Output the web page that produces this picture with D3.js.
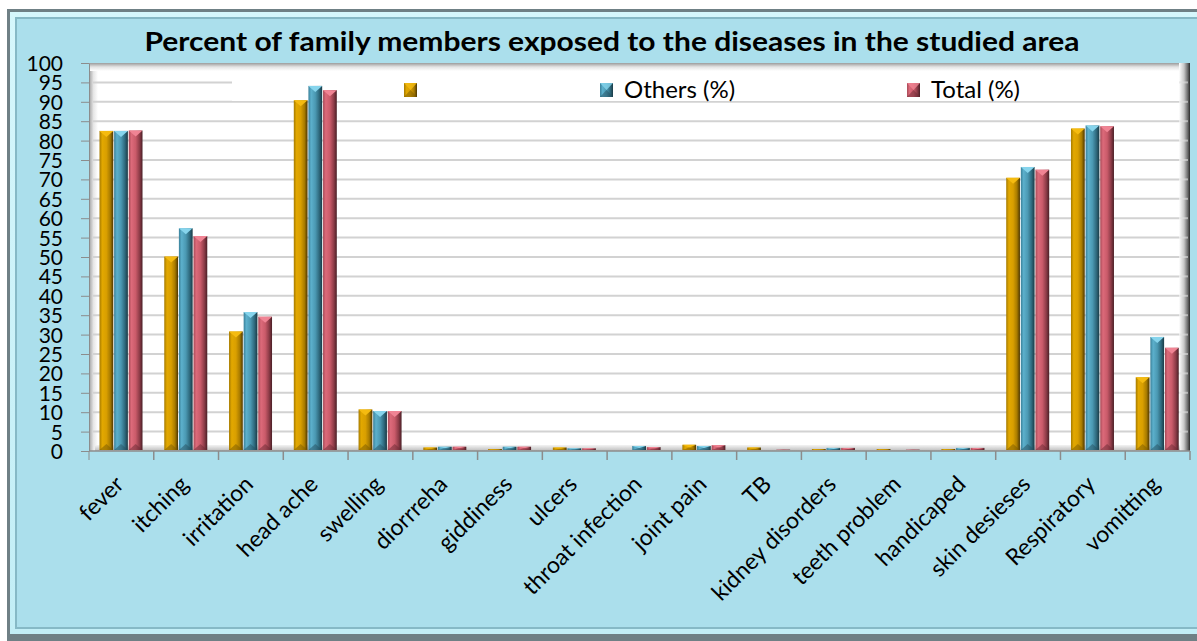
<!DOCTYPE html>
<html>
<head>
<meta charset="utf-8">
<script src="https://cdn.jsdelivr.net/npm/d3@7"></script>
<style>
  html, body { margin: 0; padding: 0; background: #ffffff; }
  svg { display: block; }
</style>
</head>
<body>
<svg id="chart" width="1197" height="641"></svg>
<script>
const categories = ["fever","itching","irritation","head ache","swelling","diorrreha","giddiness","ulcers","throat infection","joint pain","TB","kidney disorders","teeth problem","handicaped","skin desieses","Respiratory","vomitting"];
const seriesNames = ["", "Others (%)", "Total (%)"];
const series1 = [82.5, 50.1, 30.8, 90.4, 10.7, 0.9, 0.5, 0.9, 0, 1.6, 0.9, 0.3, 0.5, 0.3, 70.4, 83.1, 19.0];
const others  = [82.5, 57.4, 35.8, 94.1, 10.3, 1.1, 1.1, 0.7, 1.3, 1.3, 0, 0.8, 0, 0.8, 73.2, 83.9, 29.4];
const total   = [82.6, 55.4, 34.6, 93.0, 10.3, 1.1, 1.1, 0.7, 1.0, 1.5, 0.1, 0.8, 0.1, 0.8, 72.5, 83.7, 26.6];
const yTicks = d3.range(0, 101, 5);
const title = "Percent of family members exposed to the diseases in the studied area";

const allSeries = [series1, others, total];
const colors = [
  {stops: ["#a57a00", "#e2a800", "#d99f00", "#a87b00", "#4d3700"], cap: "#f5bb10", base: "#7a5a00"},
  {stops: ["#3a8099", "#5cb0cc", "#4b99b3", "#2f6a7e", "#1a3a45"], cap: "#86d4ec", base: "#25505f"},
  {stops: ["#a84a57", "#dc6a7a", "#ca5b6a", "#8e3c48", "#4a1f26"], cap: "#f08494", base: "#6a2a33"}
];

const svg = d3.select("#chart");
const defs = svg.append("defs");

colors.forEach((c, i) => {
  const g = defs.append("linearGradient").attr("id", "bar" + i)
    .attr("x1", "0").attr("x2", "1").attr("y1", "0").attr("y2", "0");
  [0, 0.2, 0.5, 0.78, 1].forEach((o, k) => g.append("stop").attr("offset", o).attr("stop-color", c.stops[k]));
});
function lin(id, x1, y1, x2, y2, stops) {
  const g = defs.append("linearGradient").attr("id", id)
    .attr("x1", x1).attr("y1", y1).attr("x2", x2).attr("y2", y2);
  stops.forEach(s => g.append("stop").attr("offset", s[0]).attr("stop-color", s[1]));
}
lin("leftWall", 0, 0, 1, 0, [[0, "#a0a0a0"], [0.5, "#e6e6e6"], [1, "#ffffff"]]);
lin("topWall", 0, 0, 0, 1, [[0, "#9c9c9c"], [0.5, "#e4e4e4"], [1, "#ffffff"]]);
lin("rightWall", 0, 0, 1, 0, [[0, "#ffffff"], [0.45, "#c8c8c8"], [0.8, "#6a6a6a"], [1, "#2a2a2a"]]);
lin("floor", 0, 0, 0, 1, [[0, "#f4f4f4"], [1, "#bcbcbc"]]);
lin("frameLight", 0, 0, 0, 1, [[0, "#d6f7fc"], [1, "#c2eef6"]]);

// Frame
svg.append("rect").attr("x", 7).attr("y", 9).attr("width", 1200).attr("height", 632).attr("fill", "#6f8085");
svg.append("rect").attr("x", 10).attr("y", 12).attr("width", 1194).attr("height", 622).attr("fill", "url(#frameLight)");
svg.append("rect").attr("x", 15).attr("y", 17).attr("width", 1184).attr("height", 612).attr("fill", "#86b9c6");
svg.append("rect").attr("x", 17).attr("y", 19).attr("width", 1180).attr("height", 608).attr("fill", "#abdfec");

// Scales
const x = d3.scaleBand().domain(categories).range([89, 1190]).paddingInner(0).paddingOuter(0);
const y = d3.scaleLinear().domain([0, 100]).range([451, 63]);
const inner = d3.scaleBand().domain([0, 1, 2]).range([10.5, 53.5]).paddingInner(0.06);

// Wall
const wallL = 89, wallR = 1190, wallT = y(100), wallB = y(0);
svg.append("rect").attr("x", wallL).attr("y", wallT).attr("width", wallR - wallL).attr("height", wallB - wallT).attr("fill", "#ffffff");
svg.append("rect").attr("x", wallL).attr("y", wallT).attr("width", 9).attr("height", wallB - wallT).attr("fill", "url(#leftWall)");
svg.append("rect").attr("x", wallL).attr("y", wallT).attr("width", wallR - wallL).attr("height", 8).attr("fill", "url(#topWall)");

// Gridlines
svg.append("g").selectAll("line").data(yTicks.filter(v => v > 0 && v < 100)).join("line")
  .attr("x1", wallL + 4).attr("x2", wallR - 10)
  .attr("y1", d => y(d)).attr("y2", d => y(d))
  .attr("stroke", "#d2d2d2").attr("stroke-width", 2);

// Right side wall
svg.append("rect").attr("x", wallR - 11).attr("y", wallT).attr("width", 11).attr("height", wallB - wallT).attr("fill", "url(#rightWall)");
svg.append("g").selectAll("line").data(yTicks.filter(v => v > 0 && v < 100)).join("line")
  .attr("x1", wallR - 11).attr("x2", wallR - 2)
  .attr("y1", d => y(d)).attr("y2", d => y(d))
  .attr("stroke", "#e0e0e0").attr("stroke-width", 2).attr("opacity", 0.6);

// Floor
svg.append("rect").attr("x", wallL + 6).attr("y", wallB - 6).attr("width", wallR - wallL - 16).attr("height", 6).attr("fill", "url(#floor)");

// Legend box (white, covering gridlines)
svg.append("rect").attr("x", 232).attr("y", 71).attr("width", wallR - 11 - 232).attr("height", 30).attr("fill", "#ffffff");

// Bars
const groups = svg.append("g").selectAll("g").data(categories).join("g")
  .attr("transform", d => `translate(${x(d)},0)`);
allSeries.forEach((vals, si) => {
  const c = colors[si];
  groups.each(function(cat, ci) {
    const v = vals[ci];
    if (v <= 0) return;
    const g = d3.select(this);
    const bx = inner(si), bw = inner.bandwidth();
    const top = y(v), bottom = y(0) - 1;
    let h = Math.max(bottom - top, 1);
    const t = bottom - h;
    g.append("rect").attr("x", bx).attr("y", t).attr("width", bw).attr("height", h).attr("fill", `url(#bar${si})`)
      .attr("opacity", v < 0.2 ? 0.35 : 1);
    const capH = Math.min(6, h / 2);
    g.append("path")
      .attr("d", `M${bx},${t}L${bx + bw},${t}L${bx + bw / 2},${t + capH}Z`)
      .attr("fill", c.cap).attr("opacity", v < 0.2 ? 0.35 : 1);
    g.append("path")
      .attr("d", `M${bx},${bottom}L${bx + bw},${bottom}L${bx + bw / 2},${bottom - capH}Z`)
      .attr("fill", c.base).attr("opacity", 0.5);
  });
});

// Y axis
const yAxis = svg.append("g").attr("transform", `translate(${wallL},0)`)
  .call(d3.axisLeft(y).tickValues(yTicks).tickSize(8).tickPadding(18).tickSizeOuter(0));
yAxis.select(".domain").attr("stroke", "#8c8c8c");
yAxis.selectAll(".tick line").attr("stroke", "#8c8c8c");
yAxis.selectAll(".tick text").attr("font-family", "Lato, 'Open Sans', sans-serif").attr("font-size", 21).attr("fill", "#000").attr("dy", "0.36em");
svg.append("line").attr("x1", wallL).attr("x2", wallL).attr("y1", y(0)).attr("y2", y(0) + 9).attr("stroke", "#8c8c8c");

// X axis line & boundary ticks
svg.append("line").attr("x1", wallL).attr("x2", wallR).attr("y1", y(0)).attr("y2", y(0)).attr("stroke", "#8c8c8c").attr("stroke-width", 1.5);
const bounds = categories.map(c => x(c)).concat([x.range()[1]]);
svg.append("g").selectAll("line").data(bounds.slice(1)).join("line")
  .attr("x1", d => d).attr("x2", d => d).attr("y1", y(0)).attr("y2", y(0) + 9)
  .attr("stroke", "#8c8c8c").attr("stroke-width", 1.5);

// X labels
svg.append("g").selectAll("text").data(categories).join("text")
  .attr("transform", d => `translate(${x(d) + x.bandwidth() / 2 - 8},474) rotate(-45)`)
  .attr("text-anchor", "end").attr("dy", "0.72em")
  .attr("font-family", "Lato, 'Open Sans', sans-serif").attr("font-size", 23).attr("fill", "#000")
  .text(d => d);

// Title
svg.append("text").attr("x", 612).attr("y", 51).attr("text-anchor", "middle")
  .attr("font-family", "Lato, 'Open Sans', sans-serif").attr("font-weight", "bold").attr("font-size", 27.5)
  .attr("textLength", 935).attr("lengthAdjust", "spacingAndGlyphs").attr("fill", "#000")
  .text(title);

// Legend
const legendX = [404, 600, 907];
const legend = svg.append("g").selectAll("g").data(seriesNames).join("g")
  .attr("transform", (d, i) => `translate(${legendX[i]},83)`);
legend.append("rect").attr("width", 13).attr("height", 14).attr("fill", (d, i) => `url(#bar${i})`);
legend.append("path").attr("d", "M0,0L13,0L6.5,7Z").attr("fill", (d, i) => colors[i].cap).attr("opacity", 0.8);
legend.append("path").attr("d", "M0,14L13,14L6.5,7Z").attr("fill", (d, i) => colors[i].base).attr("opacity", 0.5);
legend.append("text").attr("x", 24).attr("y", 15)
  .attr("font-family", "Lato, 'Open Sans', sans-serif").attr("font-size", 24).attr("fill", "#000")
  .text(d => d);
</script>
</body>
</html>
